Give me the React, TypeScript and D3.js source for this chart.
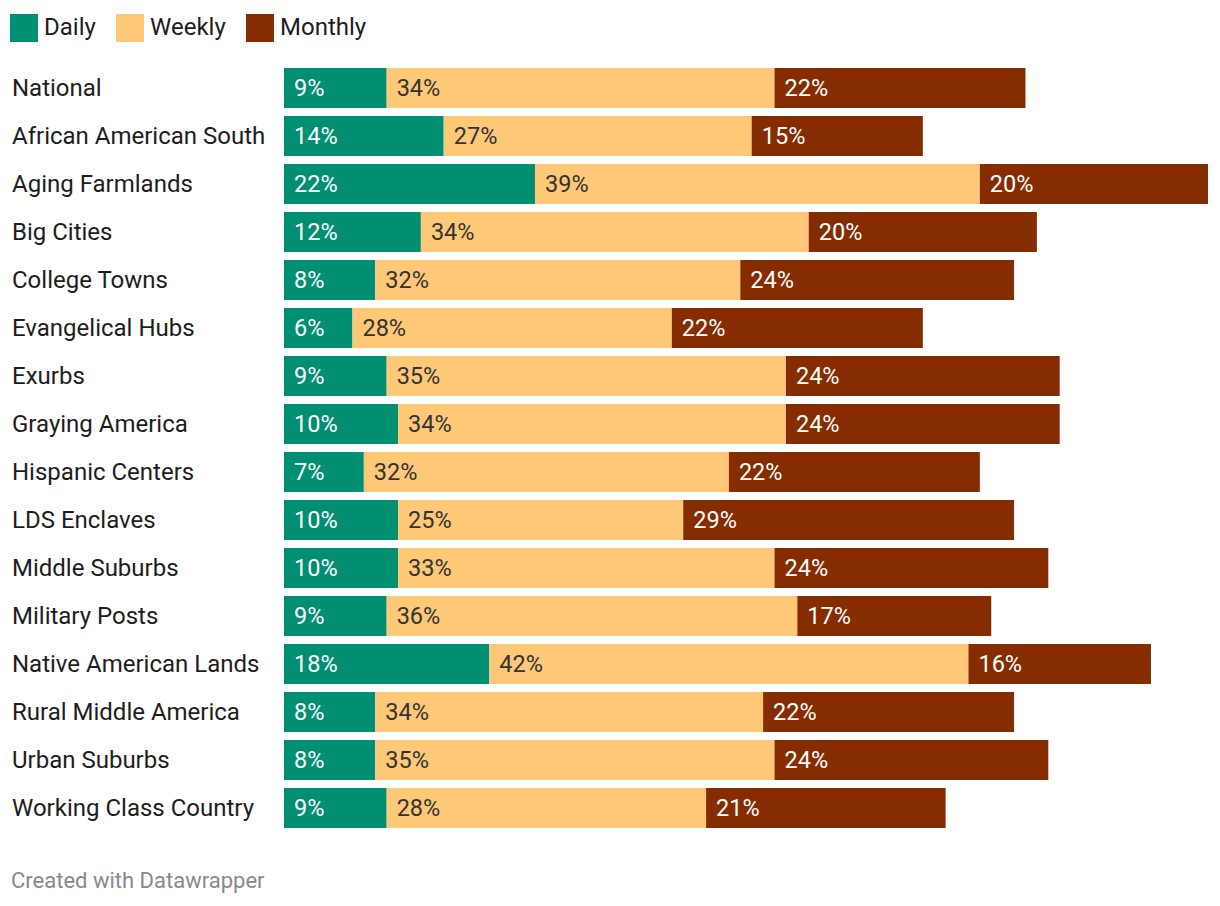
import React from "react";
import * as d3 from "d3";

const categories = [
  "National",
  "African American South",
  "Aging Farmlands",
  "Big Cities",
  "College Towns",
  "Evangelical Hubs",
  "Exurbs",
  "Graying America",
  "Hispanic Centers",
  "LDS Enclaves",
  "Middle Suburbs",
  "Military Posts",
  "Native American Lands",
  "Rural Middle America",
  "Urban Suburbs",
  "Working Class Country",
];
const daily = [9, 14, 22, 12, 8, 6, 9, 10, 7, 10, 10, 9, 18, 8, 8, 9];
const weekly = [34, 27, 39, 34, 32, 28, 35, 34, 32, 25, 33, 36, 42, 34, 35, 28];
const monthly = [22, 15, 20, 20, 24, 22, 24, 24, 22, 29, 24, 17, 16, 22, 24, 21];
const seriesNames = ["Daily", "Weekly", "Monthly"];
const seriesColors = ["#008f73", "#fec877", "#862d00"];
const labelColors = ["#ffffff", "#333333", "#ffffff"];

export default function App() {
  const W = 1220;
  const H = 906;
  const font = "Roboto, 'Noto Sans', sans-serif";
  const rows = categories.map((c, i) => ({ c, Daily: daily[i], Weekly: weekly[i], Monthly: monthly[i] }));
  const stack = d3.stack<any>().keys(seriesNames)(rows);
  const maxTotal = d3.max(rows, (r) => r.Daily + r.Weekly + r.Monthly) as number;
  const x = d3.scaleLinear().domain([0, maxTotal]).range([284, 1208]);
  const step = 48;
  const bh = 40;
  const y = d3
    .scaleBand()
    .domain(categories)
    .range([68, 68 + step * categories.length])
    .paddingInner((step - bh) / step)
    .paddingOuter(0)
    .align(0);
  const yPos = (c: string) => 68 + categories.indexOf(c) * step;

  const legendX = [10, 116, 246];

  return (
    <svg width={W} height={H} style={{ position: "absolute", left: 0, top: 0, background: "#fff" }} fontFamily={font}>
      {seriesNames.map((s, i) => (
        <g key={s}>
          <rect x={legendX[i]} y={14} width={28} height={28} fill={seriesColors[i]} />
          <text x={legendX[i] + 34} y={34.5} fontSize={24} fill="#1d1d1d">
            {s}
          </text>
        </g>
      ))}
      {categories.map((c) => (
        <text key={c} x={12} y={yPos(c) + bh / 2} dy="0.35em" fontSize={24} fill="#1d1d1d">
          {c}
        </text>
      ))}
      {stack.map((layer, si) => (
        <g key={layer.key}>
          {layer.map((d: any, i: number) => {
            const c = categories[i];
            const x0 = x(d[0]);
            const x1 = x(d[1]);
            return (
              <g key={c}>
                <rect x={x0} y={yPos(c)} width={x1 - x0} height={bh} fill={seriesColors[si]} />
                <text x={x0 + 10} y={yPos(c) + bh / 2} dy="0.35em" fontSize={23.5} fill={labelColors[si]}>
                  {d[1] - d[0]}%
                </text>
              </g>
            );
          })}
        </g>
      ))}
      <text x={11} y={888} fontSize={22} fill="#8a8a8a">
        Created with Datawrapper
      </text>
    </svg>
  );
}
